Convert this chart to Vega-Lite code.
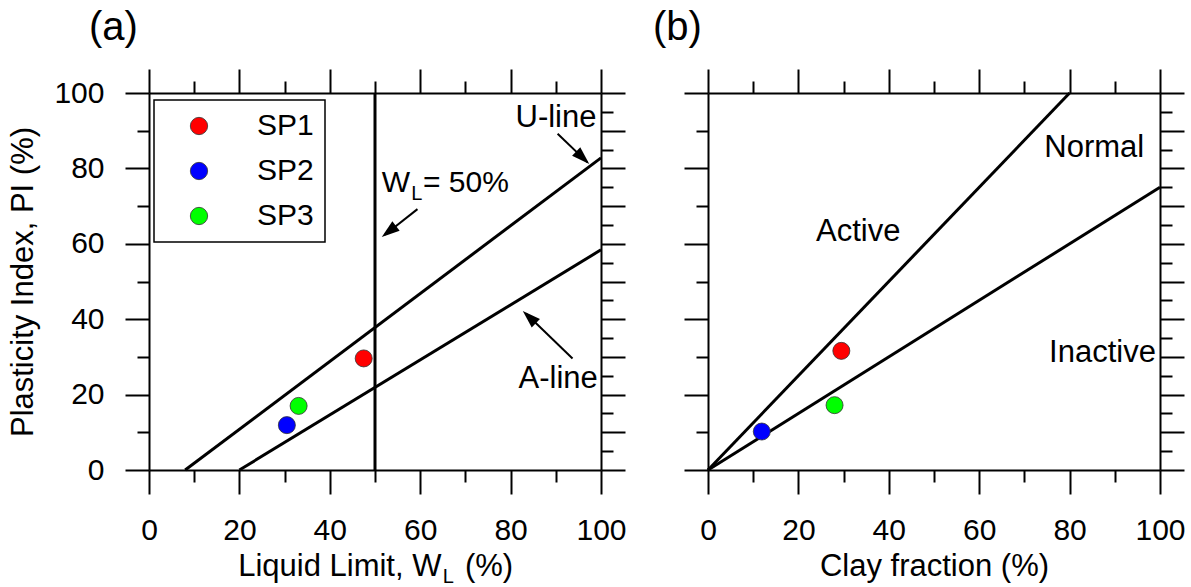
{
  "$schema": "https://vega.github.io/schema/vega-lite/v6.json",
  "background": "white",
  "padding": {"left": 7, "top": 8, "right": 5, "bottom": 0},
  "bounds": "flush",
  "spacing": 107,
  "resolve": {"legend": {"color": "independent"}},
  "config": {
    "view": {"stroke": null},
    "font": "Liberation Sans",
    "axis": {"domainColor": "black", "domainWidth": 2, "tickColor": "black", "tickWidth": 2, "grid": false, "labelFont": "Liberation Sans", "labelFontSize": 30, "labelColor": "black", "titleFont": "Liberation Sans", "titleFontSize": 31, "titleFontWeight": "normal", "titleColor": "black", "labelOverlap": false, "labelFlush": false},
    "title": {"font": "Liberation Sans", "fontSize": 40, "fontWeight": "normal", "anchor": "start", "color": "black", "frame": "group"},
    "text": {"font": "Liberation Sans", "color": "black"}
  },
  "datasets": {
    "linesA": [
      {"line": "U-line", "x": 8, "y": 0}, {"line": "U-line", "x": 100, "y": 82.8},
      {"line": "A-line", "x": 20, "y": 0}, {"line": "A-line", "x": 100, "y": 58.4},
      {"line": "WL50", "x": 50, "y": 0}, {"line": "WL50", "x": 50, "y": 100}
    ],
    "pointsA": [
      {"sample": "SP1", "x": 47.5, "y": 29.6},
      {"sample": "SP2", "x": 30.5, "y": 11.9},
      {"sample": "SP3", "x": 33.1, "y": 17.0}
    ],
    "linesB": [
      {"line": "Active", "x": 0, "y": 0}, {"line": "Active", "x": 80, "y": 100},
      {"line": "Inactive", "x": 0, "y": 0}, {"line": "Inactive", "x": 100, "y": 75}
    ],
    "pointsB": [
      {"sample": "SP1", "x": 29.5, "y": 31.6},
      {"sample": "SP2", "x": 11.9, "y": 10.2},
      {"sample": "SP3", "x": 28.0, "y": 17.2}
    ]
  },
  "hconcat": [
    {
      "width": 452, "height": 377,
      "title": {"text": "(a)", "dx": -60, "offset": 20},
      "layer": [
        {
          "data": {"name": "linesA"},
          "mark": {"type": "line", "color": "black", "strokeWidth": 3},
          "encoding": {
            "x": {"field": "x", "type": "quantitative", "scale": {"domain": [0, 100], "nice": false},
              "axis": {"orient": "bottom", "values": [0,10,20,30,40,50,60,70,80,90,100], "tickSize": {"condition": {"test": "datum.value % 20 === 0", "value": 24}, "value": 12}, "labelExpr": "datum.value % 20 === 0 ? datum.label : ''", "labelPadding": 21, "title": null}},
            "y": {"field": "y", "type": "quantitative", "scale": {"domain": [0, 100], "nice": false},
              "axis": {"orient": "left", "values": [0,10,20,30,40,50,60,70,80,90,100], "tickSize": {"condition": {"test": "datum.value % 20 === 0", "value": 24}, "value": 12}, "labelExpr": "datum.value % 20 === 0 ? datum.label : ''", "labelPadding": 21, "title": "Plasticity Index, PI (%)", "titlePadding": 14}},
            "detail": {"field": "line"}
          }
        },
        {
          "data": {"name": "pointsA"},
          "mark": {"type": "circle", "size": 290, "opacity": 1, "stroke": "#333333", "strokeWidth": 0.8},
          "encoding": {
            "x": {"field": "x", "type": "quantitative", "scale": {"domain": [0, 100], "nice": false},
              "axis": {"orient": "top", "values": [0,10,20,30,40,50,60,70,80,90,100], "tickSize": {"condition": {"test": "datum.value % 20 === 0", "value": 24}, "value": 12}, "labels": false, "title": null}},
            "y": {"field": "y", "type": "quantitative", "scale": {"domain": [0, 100], "nice": false},
              "axis": {"orient": "right", "values": [0,5,10,15,20,25,30,35,40,45,50,55,60,65,70,75,80,85,90,95,100], "tickSize": {"condition": {"test": "datum.value % 10 === 0", "value": 24}, "value": 12}, "labels": false, "title": null}},
            "color": {"field": "sample", "type": "nominal", "scale": {"domain": ["SP1", "SP2", "SP3"], "range": ["#ff0000", "#0000ff", "#00ff00"]},
              "legend": {"orient": "none", "legendX": 5, "legendY": 7, "title": null, "strokeColor": "black", "fillColor": "white", "padding": 11, "symbolOffset": 19, "labelOffset": 43, "labelFontSize": 30, "labelFont": "Liberation Sans", "labelColor": "black", "rowPadding": 15, "symbolSize": 300, "symbolType": "circle", "symbolStrokeColor": "#333333", "symbolStrokeWidth": 0.8, "symbolOpacity": 1,
                "encode": {"legend": {"update": {"strokeWidth": {"value": 1.5}}}}}}
          }
        },
        {
          "data": {"values": [{"label": "U-line", "x": 99, "y": 91.1}, {"label": "A-line", "x": 99.3, "y": 21.7}]},
          "mark": {"type": "text", "fontSize": 31, "align": "right", "baseline": "alphabetic"},
          "encoding": {
            "x": {"field": "x", "type": "quantitative", "scale": {"domain": [0, 100], "nice": false}, "axis": null},
            "y": {"field": "y", "type": "quantitative", "scale": {"domain": [0, 100], "nice": false}, "axis": null},
            "text": {"field": "label"}
          }
        },
        {
          "data": {"values": [{"label": "W", "x": 51.5, "y": 73.8}, {"label": "= 50%", "x": 60.6, "y": 73.8}]},
          "mark": {"type": "text", "fontSize": 30, "align": "left", "baseline": "alphabetic"},
          "encoding": {
            "x": {"field": "x", "type": "quantitative", "scale": {"domain": [0, 100], "nice": false}, "axis": null},
            "y": {"field": "y", "type": "quantitative", "scale": {"domain": [0, 100], "nice": false}, "axis": null},
            "text": {"field": "label"}
          }
        },
        {
          "data": {"values": [{"label": "(%)", "x": 69.9, "y": -28.2}]},
          "mark": {"type": "text", "fontSize": 31, "align": "left", "baseline": "alphabetic"},
          "encoding": {
            "x": {"field": "x", "type": "quantitative", "scale": {"domain": [0, 100], "nice": false}, "axis": null},
            "y": {"field": "y", "type": "quantitative", "scale": {"domain": [0, 100], "nice": false}, "axis": null},
            "text": {"field": "label"}
          }
        },
        {
          "data": {"values": [{"label": "Liquid Limit, W", "x": 64.7, "y": -28.2}]},
          "mark": {"type": "text", "fontSize": 31, "align": "right", "baseline": "alphabetic"},
          "encoding": {
            "x": {"field": "x", "type": "quantitative", "scale": {"domain": [0, 100], "nice": false}, "axis": null},
            "y": {"field": "y", "type": "quantitative", "scale": {"domain": [0, 100], "nice": false}, "axis": null},
            "text": {"field": "label"}
          }
        },
        {
          "data": {"values": [{"label": "L", "x": 58.0, "y": 71.6}, {"label": "L", "x": 65.0, "y": -30.0}]},
          "mark": {"type": "text", "fontSize": 20, "align": "left", "baseline": "alphabetic"},
          "encoding": {
            "x": {"field": "x", "type": "quantitative", "scale": {"domain": [0, 100], "nice": false}, "axis": null},
            "y": {"field": "y", "type": "quantitative", "scale": {"domain": [0, 100], "nice": false}, "axis": null},
            "text": {"field": "label"}
          }
        },
        {
          "data": {"values": [{"x": 90.4, "y": 89.2, "x2": 97.0, "y2": 81.6}, {"x": 59.4, "y": 69.2, "x2": 52.2, "y2": 62.4}, {"x": 93.7, "y": 29.6, "x2": 83.4, "y2": 41.5}]},
          "mark": {"type": "rule", "color": "black", "strokeWidth": 2},
          "encoding": {
            "x": {"field": "x", "type": "quantitative", "scale": {"domain": [0, 100], "nice": false}, "axis": null},
            "y": {"field": "y", "type": "quantitative", "scale": {"domain": [0, 100], "nice": false}, "axis": null},
            "x2": {"field": "x2"},
            "y2": {"field": "y2"}
          }
        },
        {
          "data": {"values": [{"x": 97.4, "y": 81.2}]},
          "mark": {"type": "point", "shape": "M0,0L-2,-0.66L-2,0.66Z", "filled": true, "color": "black", "opacity": 1, "size": 324, "angle": 43.5},
          "encoding": {
            "x": {"field": "x", "type": "quantitative", "scale": {"domain": [0, 100], "nice": false}, "axis": null},
            "y": {"field": "y", "type": "quantitative", "scale": {"domain": [0, 100], "nice": false}, "axis": null}
          }
        },
        {
          "data": {"values": [{"x": 51.5, "y": 61.8}]},
          "mark": {"type": "point", "shape": "M0,0L-2,-0.66L-2,0.66Z", "filled": true, "color": "black", "opacity": 1, "size": 324, "angle": 142.1},
          "encoding": {
            "x": {"field": "x", "type": "quantitative", "scale": {"domain": [0, 100], "nice": false}, "axis": null},
            "y": {"field": "y", "type": "quantitative", "scale": {"domain": [0, 100], "nice": false}, "axis": null}
          }
        },
        {
          "data": {"values": [{"x": 82.7, "y": 42.2}]},
          "mark": {"type": "point", "shape": "M0,0L-2,-0.66L-2,0.66Z", "filled": true, "color": "black", "opacity": 1, "size": 324, "angle": 223.6},
          "encoding": {
            "x": {"field": "x", "type": "quantitative", "scale": {"domain": [0, 100], "nice": false}, "axis": null},
            "y": {"field": "y", "type": "quantitative", "scale": {"domain": [0, 100], "nice": false}, "axis": null}
          }
        }
      ]
    },
    {
      "width": 452, "height": 377,
      "title": {"text": "(b)", "dx": -55, "offset": 20},
      "layer": [
        {
          "data": {"name": "linesB"},
          "mark": {"type": "line", "color": "black", "strokeWidth": 3},
          "encoding": {
            "x": {"field": "x", "type": "quantitative", "scale": {"domain": [0, 100], "nice": false},
              "axis": {"orient": "bottom", "values": [0,10,20,30,40,50,60,70,80,90,100], "tickSize": {"condition": {"test": "datum.value % 20 === 0", "value": 24}, "value": 12}, "labelExpr": "datum.value % 20 === 0 ? datum.label : ''", "labelPadding": 21, "title": "Clay fraction (%)", "titlePadding": 6}},
            "y": {"field": "y", "type": "quantitative", "scale": {"domain": [0, 100], "nice": false},
              "axis": {"orient": "left", "values": [0,10,20,30,40,50,60,70,80,90,100], "tickSize": {"condition": {"test": "datum.value % 20 === 0", "value": 24}, "value": 12}, "labels": false, "title": null}},
            "detail": {"field": "line"}
          }
        },
        {
          "data": {"name": "pointsB"},
          "mark": {"type": "circle", "size": 290, "opacity": 1, "stroke": "#333333", "strokeWidth": 0.8},
          "encoding": {
            "x": {"field": "x", "type": "quantitative", "scale": {"domain": [0, 100], "nice": false},
              "axis": {"orient": "top", "values": [0,10,20,30,40,50,60,70,80,90,100], "tickSize": {"condition": {"test": "datum.value % 20 === 0", "value": 24}, "value": 12}, "labels": false, "title": null}},
            "y": {"field": "y", "type": "quantitative", "scale": {"domain": [0, 100], "nice": false},
              "axis": {"orient": "right", "values": [0,5,10,15,20,25,30,35,40,45,50,55,60,65,70,75,80,85,90,95,100], "tickSize": {"condition": {"test": "datum.value % 10 === 0", "value": 24}, "value": 12}, "labels": false, "title": null}},
            "color": {"field": "sample", "type": "nominal", "scale": {"domain": ["SP1", "SP2", "SP3"], "range": ["#ff0000", "#0000ff", "#00ff00"]}, "legend": null}
          }
        },
        {
          "data": {"values": [{"label": "Active", "x": 23.9, "y": 60.8}, {"label": "Normal", "x": 74.4, "y": 83.1}]},
          "mark": {"type": "text", "fontSize": 31, "align": "left", "baseline": "alphabetic"},
          "encoding": {
            "x": {"field": "x", "type": "quantitative", "scale": {"domain": [0, 100], "nice": false}, "axis": null},
            "y": {"field": "y", "type": "quantitative", "scale": {"domain": [0, 100], "nice": false}, "axis": null},
            "text": {"field": "label"}
          }
        },
        {
          "data": {"values": [{"label": "Inactive", "x": 99.1, "y": 28.7}]},
          "mark": {"type": "text", "fontSize": 31, "align": "right", "baseline": "alphabetic"},
          "encoding": {
            "x": {"field": "x", "type": "quantitative", "scale": {"domain": [0, 100], "nice": false}, "axis": null},
            "y": {"field": "y", "type": "quantitative", "scale": {"domain": [0, 100], "nice": false}, "axis": null},
            "text": {"field": "label"}
          }
        }
      ]
    }
  ]
}
